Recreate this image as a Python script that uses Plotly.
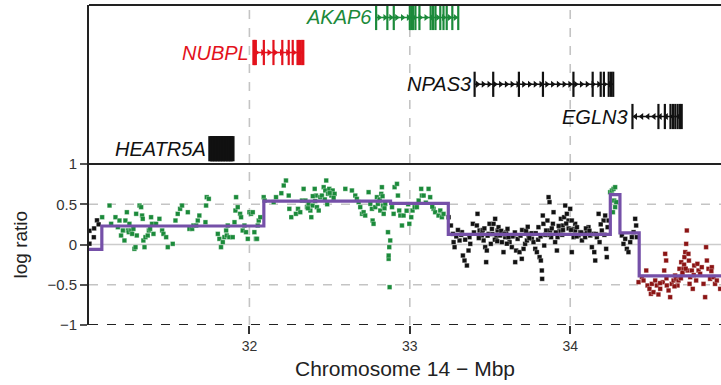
import plotly.graph_objects as go

# ---------------- data ----------------
green_x = [31.082, 31.128, 31.138, 31.165, 31.180, 31.190, 31.200, 31.211, 31.221, 31.227, 31.236, 31.242,
           31.248, 31.252, 31.263, 31.269, 31.277, 31.283, 31.290, 31.294, 31.298, 31.315, 31.325, 31.331,
           31.335, 31.339, 31.346, 31.352, 31.366, 31.373, 31.381, 31.387, 31.393, 31.402, 31.418, 31.439,
           31.456, 31.464, 31.481, 31.491, 31.522, 31.539, 31.553, 31.568, 31.580, 31.616, 31.626, 31.643,
           31.651, 31.668, 31.678, 31.688, 31.726, 31.730, 31.734, 31.747, 31.803, 31.813, 31.823, 31.834,
           31.844, 31.855, 31.859, 31.865, 31.875, 31.896, 31.907, 31.913, 31.917, 31.927, 31.942, 31.948,
           31.958, 31.969, 31.979, 31.990, 32.000, 32.010, 32.021, 32.031, 32.041, 32.052,
           32.047, 32.058, 32.068, 32.089, 32.095, 32.151, 32.166, 32.199, 32.214, 32.228, 32.245, 32.249,
           32.261, 32.290, 32.303, 32.317, 32.328, 32.338, 32.349, 32.359, 32.369, 32.380, 32.386, 32.394,
           32.407, 32.415, 32.421, 32.432, 32.442, 32.452, 32.463, 32.473, 32.479, 32.490, 32.498, 32.511,
           32.519, 32.531, 32.598, 32.639, 32.660, 32.670, 32.681, 32.691, 32.702, 32.712, 32.722, 32.743,
           32.754, 32.764, 32.768, 32.774, 32.785, 32.795, 32.801, 32.810, 32.816, 32.822, 32.826, 32.833,
           32.837, 32.847, 32.864, 32.872, 32.878, 32.868, 32.874, 32.868, 32.889, 32.899, 32.905, 32.920,
           32.926, 32.934, 32.941, 32.951, 32.961, 32.997, 33.009, 33.017, 33.030, 33.044, 33.055, 33.071,
           33.075, 33.086, 33.117, 33.127, 33.148, 33.158, 33.179, 33.190, 33.200, 33.100, 33.140, 33.210,
           32.470, 32.485, 32.500, 32.525, 32.410, 32.395, 32.365, 32.812, 32.830, 32.842, 32.980, 32.990,
           34.249, 34.260, 34.270, 34.280, 34.274, 34.280, 34.266, 34.287]
green_y = [0.339, 0.484, 0.257, 0.339, 0.215, 0.298, 0.112, 0.174, 0.050, 0.298, 0.401, 0.174,
           0.153, 0.257, 0.174, 0.132, 0.194, -0.054, -0.033, 0.381, 0.112, 0.484, 0.464, 0.360,
           0.319, 0.050, -0.033, 0.091, 0.112, 0.174, 0.194, 0.339, 0.257, 0.132, 0.257, 0.319,
           0.174, 0.132, 0.091, -0.033, 0.008, 0.298, 0.381, 0.443, 0.484, 0.401, 0.194, 0.194,
           0.236, 0.236, 0.298, 0.360, 0.277, 0.484, 0.588, 0.567, 0.132, 0.070, -0.033, 0.029,
           0.091, 0.174, 0.112, 0.236, 0.091, 0.091, 0.277, 0.422, 0.588, 0.464, 0.381, 0.339,
           0.174, 0.236, 0.153, 0.070, 0.401, 0.381, 0.401, 0.153, 0.070, 0.236,
           0.070, 0.298, 0.339, 0.588, 0.546, 0.526, 0.588, 0.637, 0.733, 0.795, 0.608, 0.443,
           0.339, 0.381, 0.443, 0.401, 0.546, 0.691, 0.546, 0.464, 0.505, 0.422, 0.339, 0.484,
           0.691, 0.608, 0.464, 0.422, 0.588, 0.608, 0.712, 0.671, 0.795, 0.629, 0.691, 0.608,
           0.671, 0.629, 0.691, 0.671, 0.608, 0.567, 0.526, 0.464, 0.381, 0.401, 0.360, 0.650,
           0.505, 0.443, 0.298, 0.257, 0.464, 0.588, 0.505, 0.546, 0.422, 0.629, 0.712, 0.484,
           0.381, 0.505, 0.153, -0.033, 0.050, -0.178, -0.530, -0.137, 0.464, 0.381, 0.712, 0.753,
           0.608, 0.422, 0.360, 0.236, 0.360, 0.257, 0.339, 0.422, 0.464, 0.464, 0.546, 0.691,
           0.608, 0.608, 0.691, 0.588, 0.443, 0.401, 0.360, 0.422, 0.339, 0.520, 0.470, 0.380,
           0.560, 0.500, 0.640, 0.580, 0.540, 0.600, 0.450, 0.560, 0.600, 0.450, 0.420, 0.500,
           0.650, 0.671, 0.691, 0.712, 0.546, 0.464, 0.401, 0.526]

black_x = [31.003, 31.003, 31.030, 31.032, 31.050, 31.060,
           33.242, 33.256, 33.269, 33.273, 33.279, 33.310, 33.325, 33.331, 33.341, 33.356, 33.366, 33.372,
           33.377, 33.393, 33.418, 33.422, 33.435, 33.449, 33.460, 33.470, 33.476, 33.480, 33.491, 33.497,
           33.505, 33.512, 33.522, 33.532, 33.539, 33.547, 33.553, 33.563, 33.574, 33.584, 33.595, 33.601,
           33.609, 33.622, 33.636, 33.647, 33.657, 33.663, 33.672, 33.684, 33.698, 33.709, 33.719, 33.730,
           33.740, 33.750, 33.761, 33.771, 33.782, 33.792, 33.802, 33.809, 33.817, 33.823, 33.825, 33.829,
           33.833, 33.838, 33.850, 33.858, 33.865, 33.871, 33.875, 33.881, 33.892, 33.896, 33.906, 33.917,
           33.921, 33.933, 33.942, 33.954, 33.962, 33.969, 33.979, 33.989, 34.000, 34.010, 34.020, 34.031,
           34.010, 34.021, 34.031, 34.042, 34.052, 34.062, 34.073, 34.083, 34.093, 34.104, 34.114, 34.125,
           34.135, 34.145, 34.150, 34.156, 34.166, 34.177, 34.183, 34.197, 34.208, 34.218, 34.224, 34.228,
           34.233, 34.239, 34.322, 34.332, 34.343, 34.353, 34.363, 34.374, 34.384, 34.395, 34.405, 34.411,
           34.415, 33.300, 33.450, 33.530, 33.580, 33.640, 33.700, 33.760, 33.800, 33.860, 33.940, 33.990,
           33.290, 33.320, 33.345, 33.400, 33.430, 33.455, 33.485, 33.515, 33.545, 33.570, 33.590, 33.615,
           33.655, 33.690, 33.725, 33.745, 33.785, 33.815, 33.845, 33.885, 33.910, 33.928, 33.950, 33.975,
           34.005, 34.040, 34.068, 34.098, 34.120, 34.160, 34.190, 34.213, 33.465, 33.605, 33.735, 33.955]
black_y = [0.010, 0.170, 0.090, 0.200, 0.300, 0.250,
           0.339, 0.236, 0.132, 0.029, -0.033, 0.050, 0.153, -0.137, -0.199, -0.261, -0.075, 0.091,
           0.008, 0.257, 0.236, 0.381, 0.174, 0.112, 0.050, -0.033, -0.219, -0.075, 0.132, 0.257,
           0.008, 0.194, 0.257, 0.319, 0.091, 0.174, 0.215, 0.112, 0.029, -0.095, 0.091, 0.153,
           0.194, 0.029, -0.033, 0.112, -0.219, -0.075, 0.070, -0.095, -0.178, -0.054, 0.008, 0.050,
           0.112, 0.132, 0.070, 0.029, -0.054, -0.095, 0.215, -0.157, -0.199, -0.323, -0.427, 0.360,
           0.257, -0.013, 0.174, 0.298, 0.588, 0.526, 0.174, 0.091, 0.257, 0.401, 0.029, -0.075,
           0.091, 0.174, 0.319, 0.236, 0.339, 0.484, 0.381, 0.298, 0.443, -0.095, 0.194, 0.257,
           0.298, 0.091, 0.174, 0.215, 0.112, 0.153, 0.050, 0.132, 0.091, 0.153, 0.215, 0.112,
           -0.033, 0.132, -0.095, -0.199, 0.091, 0.381, 0.029, 0.174, 0.298, 0.360, -0.054, -0.157,
           0.215, 0.298, 0.112, 0.008, 0.070, -0.054, -0.095, 0.029, 0.091, 0.153, 0.319, 0.236,
           0.091, 0.180, 0.160, 0.060, 0.140, 0.100, 0.180, 0.140, 0.060, 0.120, 0.160, 0.200,
           0.100, 0.120, 0.060, 0.150, 0.080, 0.180, 0.110, 0.130, 0.040, 0.170, 0.130, 0.090,
           0.150, 0.110, 0.170, 0.080, 0.140, 0.100, 0.120, 0.200, 0.150, 0.230, 0.120, 0.260,
           0.180, 0.100, 0.150, 0.200, 0.170, 0.130, 0.250, 0.120, 0.200, 0.010, 0.220, 0.180]

red_x = [34.426, 34.447, 34.457, 34.474, 34.482, 34.494, 34.503, 34.509, 34.519, 34.530, 34.540, 34.550,
         34.561, 34.577, 34.586, 34.592, 34.598, 34.602, 34.613, 34.623, 34.633, 34.644, 34.654, 34.660,
         34.669, 34.675, 34.681, 34.685, 34.692, 34.698, 34.706, 34.712, 34.717, 34.723, 34.727, 34.731,
         34.737, 34.744, 34.748, 34.758, 34.764, 34.773, 34.785, 34.793, 34.800, 34.810, 34.820, 34.831,
         34.841, 34.847, 34.852, 34.862, 34.872, 34.883, 34.893, 34.903, 34.914, 34.935,
         34.700, 34.710, 34.720, 34.690, 34.740, 34.770, 34.650, 34.600, 34.560, 34.880]
red_y = [-0.468, -0.406, -0.447, -0.323, -0.509, -0.551, -0.613, -0.489, -0.592, -0.447, -0.509, -0.621,
         -0.551, -0.468, -0.323, -0.116, -0.199, -0.509, -0.571, -0.654, -0.489, -0.447, -0.385, -0.427,
         -0.509, -0.447, -0.302, -0.406, -0.220, -0.364, -0.302, -0.157, -0.095, 0.008, 0.174, -0.323,
         -0.116, -0.489, -0.406, -0.323, -0.551, -0.261, -0.447, -0.240, -0.323, -0.364, -0.282, -0.489,
         -0.654, -0.033, -0.199, -0.302, -0.427, -0.282, -0.406, -0.489, -0.447, -0.551,
         -0.350, -0.250, -0.300, -0.420, -0.200, -0.380, -0.520, -0.420, -0.480, -0.330]

seg_start = [31.000, 31.080, 32.090, 32.880, 33.240, 34.250, 34.310, 34.430]
seg_end = [31.080, 32.090, 32.880, 33.240, 34.250, 34.310, 34.430, 34.940]
seg_mean = [-0.060, 0.230, 0.540, 0.510, 0.125, 0.620, 0.145, -0.390]

gene_names = ["AKAP6", "NUBPL", "NPAS3", "EGLN3", "HEATR5A"]
gene_start = [32.790, 32.025, 33.404, 34.388, 31.754]
gene_end = [33.302, 32.336, 34.268, 34.695, 31.897]
gene_strand = ["+", "+", "+", "-", "+"]
gene_row = [2.82, 2.385, 1.99, 1.59, 1.19]
gene_color = ["#1b8a3a", "#e3121c", "#111111", "#111111", "#111111"]
gene_exons = [
    [32.790, 32.860, 32.900, 33.000, 33.010, 33.020, 33.035, 33.060, 33.130, 33.145, 33.160, 33.190,
     33.210, 33.230, 33.265, 33.302],
    [32.025, 32.030, 32.035, 32.040, 32.090, 32.150, 32.205, 32.245, 32.270, 32.300, 32.310, 32.320,
     32.330, 32.336],
    [33.404, 33.520, 33.680, 33.830, 34.020, 34.140, 34.190, 34.210, 34.240, 34.255, 34.268],
    [34.388, 34.550, 34.590, 34.625, 34.640, 34.655, 34.670, 34.685, 34.695],
    [31.756, 31.766, 31.776, 31.786, 31.796, 31.806, 31.816, 31.826, 31.836, 31.846, 31.856, 31.866,
     31.876, 31.886, 31.895],
]

y_ticks = [-1, -0.5, 0, 0.5, 1]
y_tick_text = ["\u22121", "\u22120.5", "0", "0.5", "1"]
x_ticks = [32, 33, 34]
x_tick_text = ["32", "33", "34"]

X_RANGE = [31.0, 34.94]
Y_RANGE = [-1.0, 2.975]

# ---------------- figure ----------------
fig = go.Figure()

# genes
for name, s, e, strand, row, col, exons in zip(gene_names, gene_start, gene_end, gene_strand,
                                                gene_row, gene_color, gene_exons):
    fig.add_trace(go.Scatter(x=[s, e], y=[row, row], mode="lines",
                             line=dict(color=col, width=1.5), hoverinfo="skip", showlegend=False))
    n_arrows = int((e - s) / 0.035)
    if n_arrows > 1 and name != "HEATR5A":
        ax = [s + (e - s) * (i + 0.5) / n_arrows for i in range(n_arrows)]
        fig.add_trace(go.Scatter(x=ax, y=[row] * len(ax), mode="markers",
                                 marker=dict(symbol="triangle-right" if strand == "+" else "triangle-left",
                                             size=6, color=col),
                                 hoverinfo="skip", showlegend=False))
    fig.add_trace(go.Scatter(x=exons, y=[row] * len(exons), mode="markers",
                             marker=dict(symbol="line-ns", size=18,
                                         line=dict(color=col, width=4 if name == "HEATR5A" else 2.2)),
                             hoverinfo="skip", showlegend=False))
    fig.add_annotation(x=s, y=row, xref="x", yref="y", text="<i>%s</i>" % name,
                       showarrow=False, xanchor="right", yanchor="middle", xshift=-2,
                       font=dict(family="Liberation Sans, Arial", size=20, color=col))

# points
for xs, ys, col in [(green_x, green_y, "#1b8a3a"), (black_x, black_y, "#111111"), (red_x, red_y, "#8b1414")]:
    fig.add_trace(go.Scatter(x=xs, y=ys, mode="markers",
                             marker=dict(symbol="square", size=4.6, color=col,
                                         line=dict(color="rgba(255,255,255,0.5)", width=0.6)),
                             hoverinfo="skip", showlegend=False))

# segmentation line
seg_x, seg_y = [], []
for s, e, m in zip(seg_start, seg_end, seg_mean):
    seg_x += [s, e]
    seg_y += [m, m]
fig.add_trace(go.Scatter(x=seg_x, y=seg_y, mode="lines",
                         line=dict(color="#7550a8", width=3.2), hoverinfo="skip", showlegend=False))

shapes = []
for xv in x_ticks:
    shapes.append(dict(type="line", xref="x", yref="paper", x0=xv, x1=xv, y0=0, y1=1,
                       line=dict(color="#c4c4c4", width=1.6, dash="dash"), layer="below"))
for yv in [0.5, -0.5]:
    shapes.append(dict(type="line", xref="paper", yref="y", x0=0, x1=1, y0=yv, y1=yv,
                       line=dict(color="#c4c4c4", width=1.6, dash="dash"), layer="below"))
shapes.append(dict(type="line", xref="paper", yref="y", x0=0, x1=1, y0=0, y1=0,
                   line=dict(color="#cccccc", width=1.6), layer="below"))
shapes.append(dict(type="line", xref="paper", yref="y", x0=0, x1=1, y0=1, y1=1,
                   line=dict(color="#222222", width=2)))
shapes.append(dict(type="line", xref="paper", yref="paper", x0=0, x1=1, y0=1, y1=1,
                   line=dict(color="#222222", width=2)))
shapes.append(dict(type="line", xref="paper", yref="y", x0=0, x1=1, y0=-1, y1=-1,
                   line=dict(color="#222222", width=2.2, dash="dash")))

# y-axis title centred on the data panel
fig.add_annotation(x=0, y=0, xref="paper", yref="y", text="log ratio", textangle=-90,
                   showarrow=False, xanchor="center", yanchor="middle", xshift=-69,
                   font=dict(family="Liberation Sans, Arial", size=19, color="#222222"))

fig.update_layout(
    width=721, height=385,
    margin=dict(l=89, r=0, t=5, b=60),
    paper_bgcolor="white", plot_bgcolor="white",
    font=dict(family="Liberation Sans, Arial", color="#222222"),
    shapes=shapes,
    showlegend=False,
)
fig.update_xaxes(range=X_RANGE, showgrid=False, zeroline=False, showline=False,
                 tickvals=x_ticks, ticktext=x_tick_text, ticks="outside", ticklen=8, tickwidth=1.5,
                 tickcolor="#333333", tickfont=dict(size=14, color="#333333"),
                 title=dict(text="Chromosome 14 \u2212 Mbp", font=dict(size=21, color="#222222"), standoff=8))
fig.update_yaxes(range=Y_RANGE, showgrid=False, zeroline=False, showline=True, linecolor="#222222",
                 linewidth=2, tickvals=y_ticks, ticktext=y_tick_text, ticks="outside", ticklen=7,
                 tickwidth=1.5, tickcolor="#555555", tickfont=dict(size=15, color="#333333"))

fig.write_html("out.html")
